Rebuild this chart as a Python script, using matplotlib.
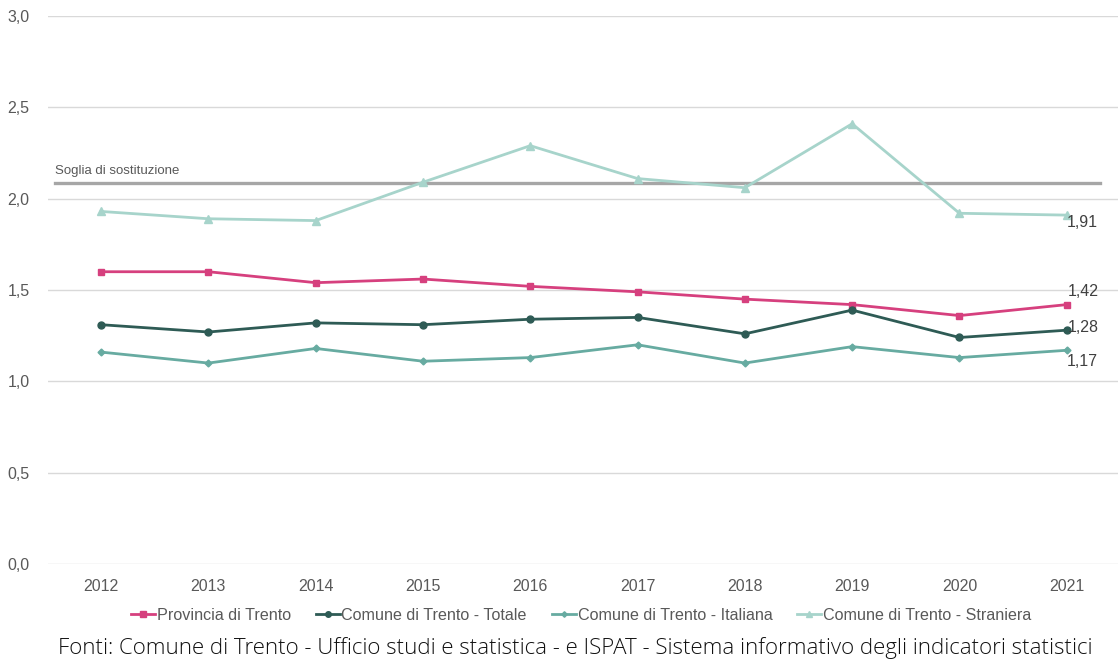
import matplotlib.pyplot as plt
from matplotlib.ticker import FuncFormatter, MultipleLocator

plt.rcParams["font.family"] = ["Liberation Sans", "DejaVu Sans"]

years = ["2012", "2013", "2014", "2015", "2016", "2017", "2018", "2019", "2020", "2021"]
provincia = [1.60, 1.60, 1.54, 1.56, 1.52, 1.49, 1.45, 1.42, 1.36, 1.42]
totale = [1.31, 1.27, 1.32, 1.31, 1.34, 1.35, 1.26, 1.39, 1.24, 1.28]
italiana = [1.16, 1.10, 1.18, 1.11, 1.13, 1.20, 1.10, 1.19, 1.13, 1.17]
straniera = [1.93, 1.89, 1.88, 2.09, 2.29, 2.11, 2.06, 2.41, 1.92, 1.91]
soglia = 2.085

series = [
    ("Provincia di Trento", provincia, "#d6407e", "s", 5),
    ("Comune di Trento - Totale", totale, "#2e5b55", "o", 5),
    ("Comune di Trento - Italiana", italiana, "#67aba1", "D", 3.5),
    ("Comune di Trento - Straniera", straniera, "#a7d4cb", "^", 5.5),
]

fig = plt.figure(figsize=(11.18, 6.61), dpi=100)
ax = fig.add_axes([47.5 / 1118, 1 - 564 / 661, 1 - 47.5 / 1118, (564 - 16) / 661])

x = list(range(len(years)))
ax.axhline(soglia, xmin=0.007, xmax=0.983, color="#a6a6a6", lw=2.4, zorder=2)
ax.text(-0.43, soglia + 0.035, "Soglia di sostituzione", fontsize=9.5,
        color="#595959", va="bottom", ha="left")

for name, vals, color, marker, ms in series:
    ax.plot(x, vals, color=color, lw=2, marker=marker, markersize=ms,
            label=name, zorder=3)

# etichette finali
fmt = lambda v: f"{v:.2f}".replace(".", ",")
lab = dict(textcoords="offset points", ha="left", fontsize=11.5, color="#404040")
ax.annotate(fmt(straniera[-1]), (x[-1], straniera[-1]), xytext=(0, 0), va="top", **lab)
ax.annotate(fmt(provincia[-1]), (x[-1], provincia[-1]), xytext=(1, 4), va="bottom", **lab)
ax.annotate(fmt(totale[-1]), (x[-1], totale[-1]), xytext=(1, 2), va="center", **lab)
ax.annotate(fmt(italiana[-1]), (x[-1], italiana[-1]), xytext=(0, -3), va="top", **lab)

ax.set_xlim(-0.5, 9.478)
ax.set_ylim(0, 3.0)
ax.yaxis.set_major_locator(MultipleLocator(0.5))
ax.yaxis.set_major_formatter(FuncFormatter(lambda v, p: f"{v:.1f}".replace(".", ",")))
ax.set_xticks(x)
ax.set_xticklabels(years)
ax.grid(axis="y", color="#d9d9d9", lw=1)
ax.set_axisbelow(True)
for s in ax.spines.values():
    s.set_visible(False)
ax.tick_params(axis="both", length=0, labelsize=11.5, labelcolor="#595959")
ax.tick_params(axis="y", pad=13)
ax.tick_params(axis="x", pad=11)

ax.legend(loc="center", bbox_to_anchor=(581 / 1118, 1 - 615 / 661),
          bbox_transform=fig.transFigure, ncol=4, frameon=False, fontsize=11.6,
          labelcolor="#595959", handlelength=1.5, handletextpad=0.1, columnspacing=1.55,
          markerscale=0.8)

fig.text(575 / 1118, 1 - 648 / 661,
         "Fonti: Comune di Trento - Ufficio studi e statistica - e ISPAT - Sistema informativo degli indicatori statistici",
         ha="center", va="center", fontsize=16, color="#111111",
         family="Open Sans", fontweight="light")

fig.savefig("out.png", dpi=100)
